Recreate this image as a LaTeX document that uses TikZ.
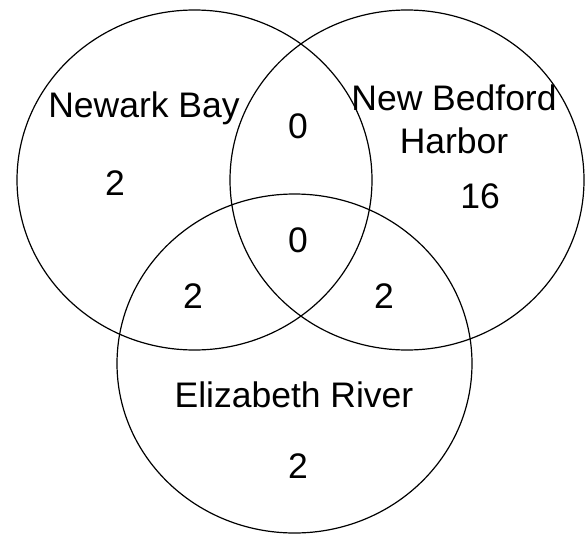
\documentclass[tikz,border=0pt]{standalone}
\usepackage{fontspec}
\setmainfont{Liberation Sans}
\usepackage{tikz}

\begin{document}
\begin{tikzpicture}[x=1pt,y=-1pt,
    set/.style={draw,line width=1.2pt},
    lbl/.style={font=\fontsize{35.5}{43}\selectfont,anchor=base,inner sep=0pt,align=center}]
    \useasboundingbox (0,0) rectangle (585,535);
    \draw[set] (194.5,180) ellipse [x radius=177.5,y radius=170];
    \draw[set] (407,180) ellipse [x radius=177,y radius=170];
    \draw[set] (294.5,363.5) ellipse [x radius=177.5,y radius=169.5];
    \node (NB) at (144,117) [lbl] {Newark Bay};
    \node (NB1) at (115,195) [lbl] {2};
    \node (NBH) at (298,138) [lbl] {0};
    \node (ALL) at (298,252) [lbl] {0};
    \node (BH) at (454,153) [lbl] {New Bedford\\Harbor};
    \node (BH1) at (480,208) [lbl] {16};
    \node (NBE) at (193,308) [lbl] {2};
    \node (BHE) at (384,308) [lbl] {2};
    \node (ER) at (294,407) [lbl] {Elizabeth River};
    \node (ER1) at (298,478) [lbl] {2};
\end{tikzpicture}
\end{document}
